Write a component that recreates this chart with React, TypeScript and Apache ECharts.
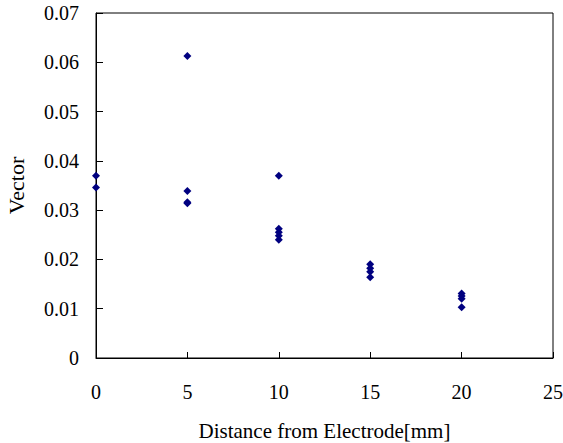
import React, { useEffect, useRef } from "react";
import * as echarts from "echarts";

const distances0 = [0, 0];
const values0 = [0.037, 0.0346];
const distances5 = [5, 5, 5, 5];
const values5 = [0.0613, 0.0339, 0.0316, 0.0314];
const distances10 = [10, 10, 10, 10, 10];
const values10 = [0.037, 0.0262, 0.0255, 0.0248, 0.024];
const distances15 = [15, 15, 15, 15];
const values15 = [0.019, 0.0182, 0.0175, 0.0164];
const distances20 = [20, 20, 20, 20];
const values20 = [0.0131, 0.0126, 0.012, 0.0103];

const xTicks = { min: 0, max: 25, interval: 5 };
const yTicks = { min: 0, max: 0.07, interval: 0.01 };

const allX = [...distances0, ...distances5, ...distances10, ...distances15, ...distances20];
const allY = [...values0, ...values5, ...values10, ...values15, ...values20];

export default function App() {
  const ref = useRef<HTMLDivElement>(null);
  useEffect(() => {
    if (!ref.current) return;
    const chart = echarts.init(ref.current, null, { renderer: "svg" });
    const font = "Liberation Serif";
    chart.setOption({
      animation: false,
      backgroundColor: "#fff",
      grid: {
        left: 96,
        right: 10,
        top: 13,
        bottom: 85,
        outerBoundsMode: "none",
        containLabel: false,
        show: true,
        borderColor: "#000",
        borderWidth: 1,
        backgroundColor: "transparent",
      },
      xAxis: {
        type: "value",
        min: xTicks.min,
        max: xTicks.max,
        interval: xTicks.interval,
        name: "Distance from Electrode[mm]",
        nameLocation: "middle",
        nameGap: 62,
        nameTextStyle: { fontFamily: font, fontSize: 21, color: "#000" },
        axisLine: { show: true, lineStyle: { color: "#000", width: 1 } },
        axisTick: { show: true, inside: true, length: 6, lineStyle: { color: "#000" } },
        axisLabel: { fontFamily: font, fontSize: 20, color: "#000", margin: 24 },
        splitLine: { show: false },
      },
      yAxis: {
        type: "value",
        min: yTicks.min,
        max: yTicks.max,
        interval: yTicks.interval,
        name: "Vector",
        nameLocation: "middle",
        nameGap: 69,
        nameTextStyle: { fontFamily: font, fontSize: 22, color: "#000" },
        axisLine: { show: true, lineStyle: { color: "#000", width: 1 } },
        axisTick: { show: true, inside: true, length: 7, lineStyle: { color: "#000" } },
        axisLabel: {
          fontFamily: font,
          fontSize: 20,
          color: "#000",
          margin: 17,
          formatter: (v: number) => (v === 0 ? "0" : v.toFixed(2)),
        },
        splitLine: { show: false },
      },
      series: [
        {
          type: "scatter",
          symbol: "diamond",
          symbolSize: 8,
          itemStyle: { color: "#000080", opacity: 1 },
          data: allX.map((x, i) => [x, allY[i]]),
        },
      ],
    });
    return () => chart.dispose();
  }, []);
  return (
    <div
      ref={ref}
      style={{ position: "absolute", left: 0, top: 0, width: 563, height: 443 }}
    />
  );
}
